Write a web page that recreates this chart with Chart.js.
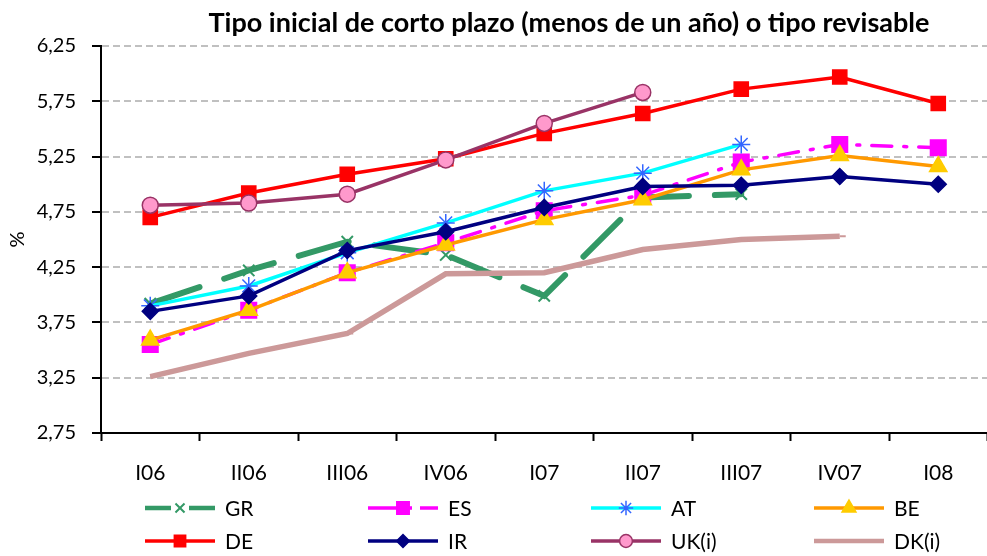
<!DOCTYPE html>
<html>
<head>
<meta charset="utf-8">
<script src="https://cdn.jsdelivr.net/npm/chart.js@4.4.1/dist/chart.umd.min.js"></script>
<style>
  html, body { margin: 0; padding: 0; overflow: hidden; background: #fff; }
  #wrap { width: 1000px; height: 556px; }
</style>
</head>
<body>
<div id="wrap"><canvas id="chart" width="1000" height="556"></canvas></div>
<script>
// datos
const quarters = ['I06', 'II06', 'III06', 'IV06', 'I07', 'II07', 'III07', 'IV07', 'I08'];
const yTickValues = [2.75, 3.25, 3.75, 4.25, 4.75, 5.25, 5.75, 6.25];

const gr = [3.92, 4.22, 4.48, 4.36, 3.99, 4.88, 4.91, null, null];
const es = [3.55, 3.86, 4.20, 4.47, 4.76, 4.90, 5.20, 5.36, 5.33];
const at = [3.90, 4.08, 4.38, 4.65, 4.94, 5.10, 5.36, null, null];
const be = [3.59, 3.86, 4.20, 4.45, 4.68, 4.86, 5.13, 5.26, 5.16];
const de = [4.70, 4.92, 5.09, 5.23, 5.46, 5.64, 5.86, 5.97, 5.73];
const ir = [3.85, 3.99, 4.40, 4.57, 4.79, 4.98, 4.99, 5.07, 5.00];
const uk = [4.81, 4.83, 4.91, 5.22, 5.55, 5.83, null, null, null];
const dk = [3.26, 3.47, 3.65, 4.19, 4.20, 4.41, 4.50, 4.53, null];

const FONT = 'Lato';

function serie(label, data, line, width, style, radius, fill, border, extra) {
    return Object.assign({
        label: label,
        data: data,
        borderColor: line,
        borderWidth: width,
        pointStyle: style,
        pointRadius: radius,
        pointHoverRadius: radius,
        pointBackgroundColor: fill,
        pointBorderColor: border,
        pointBorderWidth: 1.5,
        tension: 0,
        spanGaps: false
    }, extra || {});
}

const datasets = [
    serie('GR', gr, '#339966', 6, 'crossRot', 8, '#339966', '#339966', { borderDash: [52, 26], borderCapStyle: 'round', pointBorderWidth: 2 }),
    serie('ES', es, '#FF00FF', 3.5, 'rect', 11, '#FF00FF', '#FF00FF', { borderDash: [20, 12, 3, 12], borderCapStyle: 'round' }),
    serie('AT', at, '#00FFFF', 3.5, 'star', 9, '#3366FF', '#3366FF', { pointBorderWidth: 1.5 }),
    serie('BE', be, '#FF9900', 3.5, 'triangle', 10, '#FFCC00', '#FFCC00'),
    serie('DE', de, '#FF0000', 3.5, 'rect', 10, '#FF0000', '#FF0000'),
    serie('IR', ir, '#000080', 3.5, 'rectRot', 8, '#000080', '#000080'),
    serie('UK(i)', uk, '#993366', 3.5, 'circle', 8, '#FF99CC', '#993366'),
    serie('DK(i)', dk, '#CC9999', 5.5, 'dash', 6, '#CC9999', '#CC9999', { pointBorderWidth: 2 })
];
// Excel dibuja la última serie encima
datasets.forEach((d, i) => { d.order = -i; });

const titlePlugin = {
    id: 'tituloArriba',
    afterDraw(chart) {
        const ctx = chart.ctx;
        ctx.save();
        ctx.fillStyle = '#000';
        ctx.font = 'bold 27px ' + FONT;
        ctx.textAlign = 'center';
        ctx.textBaseline = 'alphabetic';
        ctx.fillText('Tipo inicial de corto plazo (menos de un año) o tipo revisable', 569, 32);
        ctx.restore();
    }
};

const legendPlugin = {
    id: 'leyendaAbajo',
    afterDraw(chart) {
        const ctx = chart.ctx;
        chart.data.datasets.forEach((ds, i) => {
            const col = i % 4, row = Math.floor(i / 4);
            const x0 = 145 + col * 223;
            const y = 508 + row * 33;
            ctx.save();
            ctx.strokeStyle = ds.borderColor;
            ctx.lineWidth = Math.min(ds.borderWidth, 4.5);
            ctx.lineCap = 'butt';
            if (ds.borderDash) {
                ctx.setLineDash(i === 0 ? [26, 18] : [30, 8, 6, 8]);
            }
            ctx.beginPath();
            ctx.moveTo(x0, y);
            ctx.lineTo(x0 + 70, y);
            ctx.stroke();
            ctx.setLineDash([]);
            ctx.fillStyle = ds.pointBackgroundColor;
            ctx.strokeStyle = ds.pointBorderColor;
            ctx.lineWidth = ds.pointBorderWidth;
            Chart.helpers.drawPoint(ctx, {
                pointStyle: ds.pointStyle,
                radius: ds.pointRadius * 0.8,
                rotation: 0,
                borderWidth: ds.pointBorderWidth
            }, x0 + 35, y);
            ctx.fillStyle = '#000';
            ctx.font = '21px ' + FONT;
            ctx.textAlign = 'left';
            ctx.textBaseline = 'middle';
            ctx.fillText(ds.label, x0 + 80, y + 1);
            ctx.restore();
        });
    }
};

new Chart(document.getElementById('chart'), {
    type: 'line',
    data: { labels: quarters, datasets: datasets },
    plugins: [titlePlugin, legendPlugin],
    options: {
        responsive: false,
        animation: false,
        layout: { padding: { top: 46, left: 0, right: 0, bottom: 0 } },
        plugins: {
            legend: { display: false },
            title: { display: false },
            tooltip: { enabled: false }
        },
        scales: {
            x: {
                offset: true,
                afterFit(scale) { scale.height = 123; },
                grid: {
                    offset: true,
                    drawOnChartArea: false,
                    tickLength: 8,
                    tickColor: '#000',
                    tickWidth: 2
                },
                border: { color: '#000', width: 2 },
                ticks: {
                    color: '#000',
                    padding: 20,
                    maxRotation: 0,
                    font: { family: FONT, size: 21 }
                }
            },
            y: {
                min: 2.75,
                max: 6.25,
                afterFit(scale) { scale.width = 101; },
                afterBuildTicks(scale) {
                    scale.ticks = yTickValues.map(v => ({ value: v }));
                },
                grid: {
                    color: '#C0C0C0',
                    lineWidth: 2,
                    tickLength: 9,
                    tickColor: '#000',
                    tickWidth: 2,
                    tickBorderDash: []
                },
                border: { color: '#000', width: 2, dash: [7, 4] },
                title: {
                    display: true,
                    text: '%',
                    color: '#000',
                    font: { family: FONT, size: 20 },
                    padding: { top: 6, bottom: 0 }
                },
                ticks: {
                    color: '#000',
                    padding: 16,
                    font: { family: FONT, size: 20 },
                    callback: v => v.toFixed(2).replace('.', ',')
                }
            }
        }
    }
});
</script>
</body>
</html>
